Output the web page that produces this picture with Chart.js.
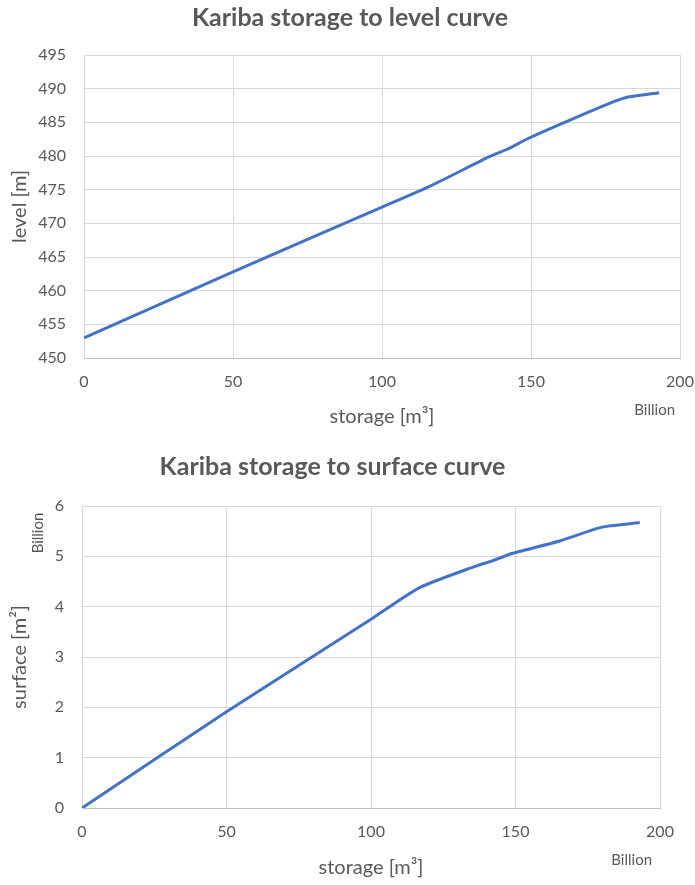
<!DOCTYPE html>
<html>
<head>
<meta charset="utf-8">
<script src="https://cdn.jsdelivr.net/npm/chart.js@4"></script>
<style>
  html, body { margin: 0; padding: 0; background: #ffffff; overflow: hidden; }
  #c1 { position: absolute; left: 0; top: 0; }
  #c2 { position: absolute; left: 0; top: 440px; }
</style>
</head>
<body>
<canvas id="c1" width="695" height="440"></canvas>
<canvas id="c2" width="695" height="445"></canvas>
<script>
// storage in billion m3
const storage = [0, 50, 100, 116.5, 136, 142, 149, 165, 178, 182, 193];
// level in m
const level   = [453.0, 462.8, 472.4, 475.6, 479.9, 481.0, 482.6, 485.7, 488.1, 488.7, 489.4];
// surface in billion m2
const surface = [0, 1.91, 3.75, 4.37, 4.80, 4.91, 5.06, 5.30, 5.55, 5.60, 5.67];

const xTicks = [0, 50, 100, 150, 200];
const levelTicks = [450, 455, 460, 465, 470, 475, 480, 485, 490, 495];
const surfaceTicks = [0, 1, 2, 3, 4, 5, 6];

const FONT = 'Lato, "Open Sans", sans-serif';
const TXT = '#595959';
const GRID = '#d9d9d9';
const LINE = '#4472C4';

function pts(ys) { return storage.map((x, i) => ({ x: x, y: ys[i] })); }

const unitPlugin = {
  id: 'units',
  afterLayout(chart, args, opts) {
    const tb = chart.titleBlock;
    if (tb) { tb.left = opts.titleL; tb.right = opts.titleR; tb.width = opts.titleR - opts.titleL; }
  },
  afterDraw(chart, args, opts) {
    const ctx = chart.ctx;
    const a = chart.chartArea;
    ctx.save();
    ctx.fillStyle = TXT;
    ctx.font = '15px ' + FONT;
    ctx.textAlign = 'right';
    ctx.textBaseline = 'middle';
    ctx.fillText('Billion', a.right + opts.xDx, a.bottom + 52);
    if (opts.yBillion) {
      ctx.translate(38, a.top + 27);
      ctx.rotate(-Math.PI / 2);
      ctx.textAlign = 'center';
      ctx.fillText('Billion', 0, 0);
    }
    ctx.restore();
  }
};

function makeChart(id, ys, yTicks, yTitle, titleText, opts) {
  return new Chart(document.getElementById(id), {
    type: 'line',
    data: {
      datasets: [{
        data: pts(ys),
        borderColor: LINE,
        borderWidth: 3,
        pointRadius: 0,
        tension: 0.2,
        fill: false
      }]
    },
    plugins: [unitPlugin],
    options: {
      responsive: false,
      devicePixelRatio: 1,
      animation: false,
      layout: { padding: opts.padding },
      plugins: {
        legend: { display: false },
        tooltip: { enabled: false },
        title: {
          display: true,
          text: titleText,
          color: TXT,
          font: { family: FONT, size: 25, weight: 'bold' },
          padding: { top: opts.titleTop, bottom: opts.titleBottom }
        },
        units: { xDx: opts.xDx, yBillion: opts.yBillion, titleL: opts.titleL, titleR: opts.titleR }
      },
      scales: {
        x: {
          type: 'linear',
          min: 0, max: 200,
          afterBuildTicks: s => { s.ticks = xTicks.map(v => ({ value: v })); },
          afterFit: s => { s.height = opts.xHeight; s.paddingLeft = 0; s.paddingRight = 0; },
          grid: { color: GRID, drawTicks: false, lineWidth: 1 },
          border: { color: '#bfbfbf' },
          ticks: { color: TXT, font: { family: FONT, size: 16 }, padding: 14, maxRotation: 0 },
          title: { display: true, text: 'storage [m³]', color: TXT, font: { family: FONT, size: 20 }, padding: 0 }
        },
        y: {
          type: 'linear',
          min: yTicks[0], max: yTicks[yTicks.length - 1],
          afterBuildTicks: s => { s.ticks = yTicks.map(v => ({ value: v })); },
          afterFit: s => { s.width = opts.yWidth; },
          grid: { color: GRID, drawTicks: false, lineWidth: 1 },
          border: { color: GRID },
          ticks: { color: TXT, font: { family: FONT, size: 16 }, padding: 18 },
          title: { display: true, text: yTitle, color: TXT, font: { family: FONT, size: 20 }, padding: 0 }
        }
      }
    }
  });
}

makeChart('c1', level, levelTicks, 'level [m]', 'Kariba storage to level curve',
  { padding: { left: 8, right: 15, top: 0, bottom: 11 }, titleTop: 3, titleBottom: 22,
    xDx: -5, yBillion: false, xHeight: 71, yWidth: 76, titleL: 0, titleR: 700 });
makeChart('c2', surface, surfaceTicks, 'surface [m²]', 'Kariba storage to surface curve',
  { padding: { left: 8, right: 35, top: 0, bottom: 5 }, titleTop: 12, titleBottom: 24,
    xDx: -8, yBillion: true, xHeight: 72, yWidth: 74, titleL: 0, titleR: 665 });
</script>
</body>
</html>
